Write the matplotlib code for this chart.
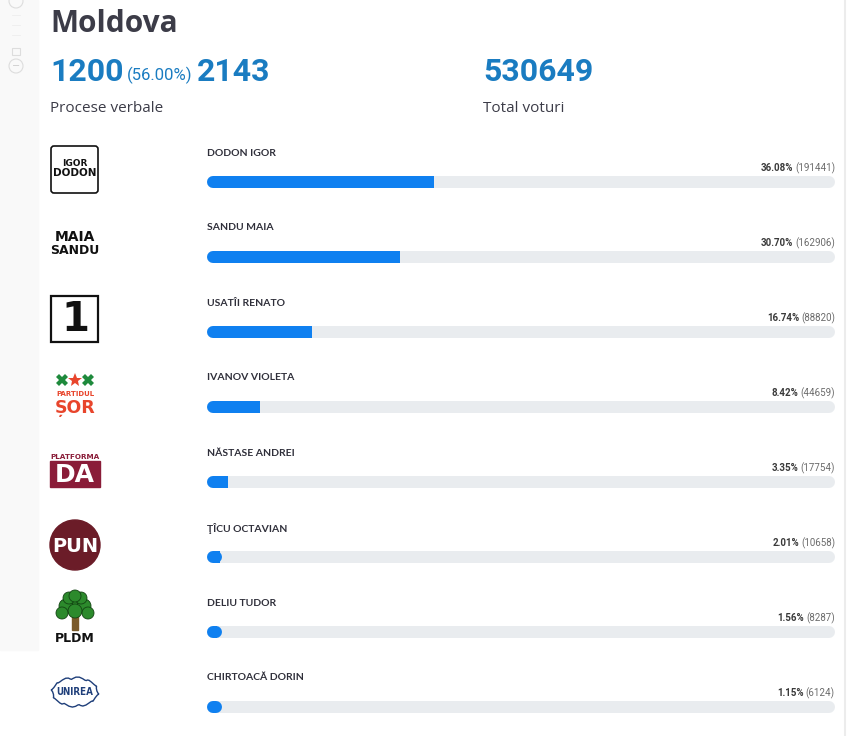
import matplotlib
matplotlib.use("Agg")
import matplotlib.pyplot as plt
from matplotlib.patches import Rectangle, FancyBboxPatch, Circle, Polygon
import numpy as np

# date
regiune = "Moldova"
procese = 1200
procese_pct = "56.00%"
procese_total = 2143
total_voturi = 530649

candidati = ["DODON IGOR", "SANDU MAIA", "USATÎI RENATO", "IVANOV VIOLETA",
             "NĂSTASE ANDREI", "ŢÎCU OCTAVIAN", "DELIU TUDOR", "CHIRTOACĂ DORIN"]
procente = [36.08, 30.70, 16.74, 8.42, 3.35, 2.01, 1.56, 1.15]
voturi = [191441, 162906, 88820, 44659, 17754, 10658, 8287, 6124]

W, H = 847, 736
fig = plt.figure(figsize=(W / 100, H / 100), dpi=100)
fig.patch.set_facecolor("white")

# axa de fundal in pixeli
bg = fig.add_axes([0, 0, 1, 1])
bg.set_xlim(0, W)
bg.set_ylim(H, 0)
bg.axis("off")

ALBASTRU = "#1a7cc1"
GRI_TXT = "#3c3c48"

# banda din stanga + controale zoom
bg.add_patch(Rectangle((0, 0), 38, 650, color="#f9f9f9", zorder=0))
bg.add_patch(Circle((16, 1), 7, fill=False, ec="#dddddd", lw=0.8))
bg.add_patch(Circle((16, 66), 7, fill=False, ec="#dddddd", lw=0.8))
bg.text(16, 66, "−", ha="center", va="center", fontsize=7, color="#cccccc")
bg.add_patch(Rectangle((12, 48), 8, 7, fill=False, ec="#dddddd", lw=0.8))
for yy in [15, 25, 35]:
    bg.plot([12, 20], [yy, yy], color="#eeeeee", lw=0.6)
bg.plot([845, 845], [0, H], color="#ececec", lw=1.5)

# antet
bg.text(50, 24, regiune, fontsize=21.5, family="Open Sans", fontweight="bold",
        color=GRI_TXT, va="center", ha="left")
bg.text(50, 72, str(procese), fontsize=23, family="Roboto", fontweight="bold",
        color=ALBASTRU, va="center", ha="left")
bg.text(127, 75, "(" + procese_pct + ")", fontsize=12, family="Roboto",
        color=ALBASTRU, va="center", ha="left")
bg.text(197, 72, str(procese_total), fontsize=23, family="Roboto", fontweight="bold",
        color=ALBASTRU, va="center", ha="left")
bg.text(483, 72, str(total_voturi), fontsize=23, family="Roboto", fontweight="bold",
        color=ALBASTRU, va="center", ha="left")
bg.text(50, 108, "Procese verbale", fontsize=11, family="Open Sans",
        color=GRI_TXT, va="center", ha="left")
bg.text(483, 108, "Total voturi", fontsize=11, family="Open Sans",
        color=GRI_TXT, va="center", ha="left")

# axa pentru bare: 0..100% pe latimea pistei
x0, x1 = 207, 835
bx = fig.add_axes([x0 / W, 0, (x1 - x0) / W, 1])
bx.set_xlim(0, 100)
bx.set_ylim(H, 0)
bx.axis("off")

row_y = [182 + 75 * i for i in range(len(candidati))]
lw_pt = 12 * 72 / 100
r = 6 / (x1 - x0) * 100

bx.hlines(row_y, r, 100 - r, colors="#e9ecef", lw=lw_pt, capstyle="round")
# capat stang rotunjit, capat drept drept
bx.hlines(row_y, r, [max(v - r, r + 0.5) for v in procente], colors="#0f80f0",
          lw=lw_pt, capstyle="round")
bx.hlines(row_y, r, [max(v, r + 0.5) for v in procente], colors="#0f80f0",
          lw=lw_pt, capstyle="butt")

fig.canvas.draw()
rend = fig.canvas.get_renderer()
for nume, p, v, y in zip(candidati, procente, voturi, row_y):
    bg.text(x0, y - 29, nume, fontsize=7.5, family="Lato", fontweight="bold",
            color="#2f2f3a", va="center", ha="left")
    tv = bg.text(x1, y - 14, "(%d)" % v, fontsize=7, family="Roboto",
                 color="#6b6b6b", va="center", ha="right")
    wpx = tv.get_window_extent(rend).width
    bg.text(x1 - wpx - 2, y - 14, "%.2f%%" % p, fontsize=7, family="Roboto",
            fontweight="bold", color="#3a3a3a", va="center", ha="right")

# sigle (aproximari)
cx = 75
# Dodon
bg.add_patch(FancyBboxPatch((51, 146), 47, 47, boxstyle="round,pad=0,rounding_size=3",
                            fc="white", ec="#111111", lw=1.2))
bg.text(cx, 163, "IGOR", fontsize=6.5, family="DejaVu Sans", fontweight="bold",
        ha="center", va="center", color="#111111")
bg.text(cx, 173, "DODON", fontsize=7.5, family="DejaVu Sans", fontweight="bold",
        ha="center", va="center", color="#111111")
# Sandu
bg.text(cx, 237, "MAIA", fontsize=10, family="DejaVu Sans", fontweight="bold",
        ha="center", va="center", color="#111111")
bg.text(cx, 251, "SANDU", fontsize=9, family="DejaVu Sans", fontweight="bold",
        ha="center", va="center", color="#111111")
# Usatii
bg.add_patch(Rectangle((51, 296), 47, 46, fc="white", ec="#111111", lw=1.6))
bg.text(cx, 320, "1", fontsize=29, family="DejaVu Sans", fontweight="bold",
        ha="center", va="center", color="#111111")
# Sor
bg.plot([62, 88], [380, 380], "X", ms=9, color="#1e8a3c", mew=0)
bg.plot([cx], [380], "*", ms=10, color="#e8452c", mew=0)
bg.text(cx, 394, "PARTIDUL", fontsize=5, family="DejaVu Sans", fontweight="bold",
        ha="center", va="center", color="#e8452c")
bg.text(cx, 408, "ȘOR", fontsize=12.5, family="DejaVu Sans", fontweight="bold",
        ha="center", va="center", color="#e8452c")
# Platforma DA
bg.text(cx, 457, "PLATFORMA", fontsize=5.2, family="DejaVu Sans", fontweight="bold",
        ha="center", va="center", color="#8a1c38")
bg.add_patch(Rectangle((50, 461), 50, 26, color="#8a1c38"))
bg.text(cx, 475, "DA", fontsize=18, family="DejaVu Sans", fontweight="bold",
        ha="center", va="center", color="white")
# PUN
bg.add_patch(Circle((cx, 545), 25, color="#6b1c28"))
bg.text(cx, 546, "PUN", fontsize=14, family="DejaVu Sans", fontweight="bold",
        ha="center", va="center", color="white")
# PLDM
bg.add_patch(Rectangle((72, 614), 6, 16, color="#7a5a2a"))
for (tx, ty, tr) in [(75, 603, 8), (66, 606, 7), (84, 606, 7), (69, 598, 6),
                     (81, 598, 6), (75, 611, 7), (62, 613, 6), (88, 613, 6),
                     (75, 596, 6)]:
    bg.add_patch(Circle((tx, ty), tr, fc="#2c8a2c", ec="#124312", lw=0.6))
bg.text(cx, 639, "PLDM", fontsize=9, family="DejaVu Sans", fontweight="bold",
        ha="center", va="center", color="#111111")
# Unirea
ang = np.linspace(0, 2 * np.pi, 60)
px = cx + 23 * np.cos(ang) + 1.2 * np.sin(ang * 9)
py = 692 + 14 * np.sin(ang) + 1.2 * np.cos(ang * 11)
bg.add_patch(Polygon(np.column_stack([px, py]), fill=False, ec="#1f3f7a", lw=1))
bg.text(cx, 692, "UNIREA", fontsize=7, family="DejaVu Sans", fontstretch="condensed",
        fontweight="bold", ha="center", va="center", color="#1f3f7a")

fig.savefig("out.png", dpi=100, facecolor="white")
